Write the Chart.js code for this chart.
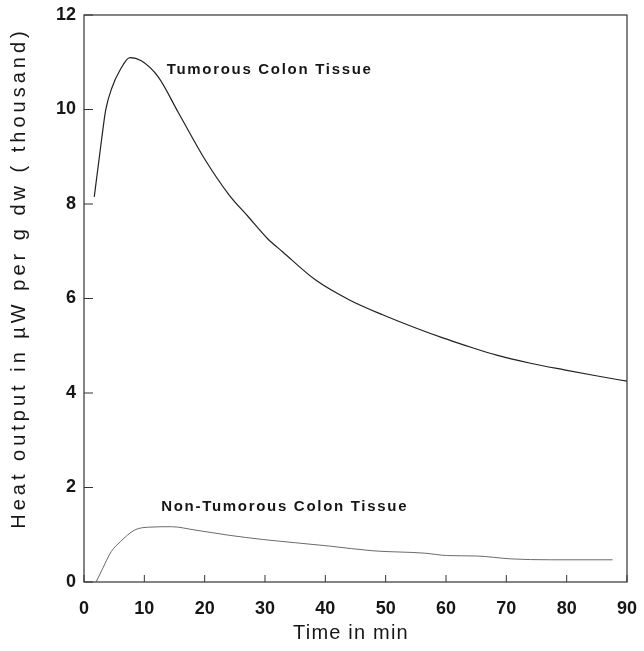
<!DOCTYPE html>
<html>
<head>
<meta charset="utf-8">
<script src="https://cdn.jsdelivr.net/npm/chart.js@4"></script>
<style>
    html, body { margin: 0; padding: 0; background: #fff; }
    #wrap { width: 644px; height: 651px; }
</style>
</head>
<body>
<div id="wrap"><canvas id="chart"></canvas></div>
<script>
// values (x in min, y in thousand µW per g dw)
const tumorX = [1.7, 2.9, 3.6, 4.6, 6.0, 7.6, 9.5, 12.3, 15.7, 20.1, 24.0, 27.3, 30.4, 32.9, 38.4, 44.0, 49.6, 55.1, 59.6, 62.9, 68.4, 74.0, 79.6, 85.1, 90.0];
const tumorY = [8.15, 9.35, 9.99, 10.45, 10.84, 11.1, 11.03, 10.69, 9.92, 8.93, 8.2, 7.72, 7.27, 6.99, 6.39, 5.97, 5.65, 5.37, 5.16, 5.02, 4.8, 4.63, 4.49, 4.36, 4.25];

const normalX = [2.0, 3.0, 4.5, 6.0, 8.4, 10.7, 14.5, 18.4, 24.0, 29.6, 35.1, 40.7, 47.9, 56.5, 60.1, 65.1, 70.7, 77.3, 82.9, 87.6];
const normalY = [0, 0.26, 0.64, 0.85, 1.10, 1.16, 1.17, 1.10, 0.99, 0.90, 0.83, 0.76, 0.66, 0.61, 0.56, 0.55, 0.49, 0.47, 0.47, 0.47];

const xTicks = [0, 10, 20, 30, 40, 50, 60, 70, 80, 90];
const yTicks = [0, 2, 4, 6, 8, 10, 12];

const seriesLabels = ["Tumorous Colon Tissue", "Non-Tumorous Colon Tissue"];
// where the curve labels sit, in data units (left edge, middle of text)
const labelAt = [[13.7, 10.84], [12.8, 1.59]];

const xTitle = "Time in min";
const yTitle = "Heat output in µW per g dw ( thousand)";

function toPoints(xs, ys) {
    return xs.map((x, i) => ({ x: x, y: ys[i] }));
}

const ink = "#161616";

// frame, inward ticks, curve labels and axis titles
const decor = {
    id: "decor",
    afterDraw(chart) {
        const ctx = chart.ctx;
        const area = chart.chartArea;
        const xs = chart.scales.x;
        const ys = chart.scales.y;

        ctx.save();
        ctx.strokeStyle = "#333";
        ctx.lineWidth = 1.2;
        ctx.strokeRect(area.left, area.top, area.right - area.left, area.bottom - area.top);

        ctx.lineWidth = 1;
        ctx.beginPath();
        for (const v of xTicks) {
            const px = xs.getPixelForValue(v);
            ctx.moveTo(px, area.bottom);
            ctx.lineTo(px, area.bottom - 7);
        }
        for (const v of yTicks) {
            const py = ys.getPixelForValue(v);
            ctx.moveTo(area.left, py);
            ctx.lineTo(area.left + 9, py);
        }
        ctx.stroke();

        ctx.fillStyle = ink;
        ctx.font = "bold 15px 'Liberation Sans', Arial, sans-serif";
        ctx.letterSpacing = "1.7px";
        ctx.textAlign = "left";
        ctx.textBaseline = "middle";
        seriesLabels.forEach((txt, i) => {
            ctx.fillText(txt, xs.getPixelForValue(labelAt[i][0]), ys.getPixelForValue(labelAt[i][1]));
        });

        ctx.font = "20px 'Liberation Sans', Arial, sans-serif";
        ctx.letterSpacing = "1.2px";
        ctx.textAlign = "center";
        ctx.fillText(xTitle, 351, 633);

        ctx.translate(19, 278);
        ctx.rotate(-Math.PI / 2);
        ctx.letterSpacing = "4px";
        ctx.fillText(yTitle, 0, 0);
        ctx.restore();
    }
};

new Chart(document.getElementById("chart"), {
    type: "line",
    data: {
        datasets: [
            {
                label: seriesLabels[0],
                data: toPoints(tumorX, tumorY),
                borderColor: "#222",
                borderWidth: 1.2,
                pointRadius: 0,
                cubicInterpolationMode: "monotone"
            },
            {
                label: seriesLabels[1],
                data: toPoints(normalX, normalY),
                borderColor: "#6a6a6a",
                borderWidth: 1,
                pointRadius: 0,
                cubicInterpolationMode: "monotone"
            }
        ]
    },
    plugins: [decor],
    options: {
        responsive: true,
        maintainAspectRatio: false,
        animation: false,
        layout: {
            padding: { left: 44, right: 17, top: 15, bottom: 29 }
        },
        plugins: {
            legend: { display: false },
            tooltip: { enabled: false }
        },
        scales: {
            x: {
                type: "linear",
                min: 0,
                max: 90,
                afterFit: (s) => {
                    s.height = 40;
                    s.paddingLeft = 0;
                    s.paddingRight = 0;
                },
                afterBuildTicks: (s) => { s.ticks = xTicks.map(v => ({ value: v })); },
                grid: { display: false, drawTicks: false },
                border: { display: false },
                ticks: {
                    padding: 16,
                    color: ink,
                    font: { family: "'Liberation Sans', Arial, sans-serif", size: 18, weight: "bold" }
                }
            },
            y: {
                min: 0,
                max: 12,
                afterFit: (s) => {
                    s.width = 40;
                    s.paddingTop = 0;
                    s.paddingBottom = 0;
                },
                afterBuildTicks: (s) => { s.ticks = yTicks.map(v => ({ value: v })); },
                grid: { display: false, drawTicks: false },
                border: { display: false },
                ticks: {
                    padding: 8,
                    color: ink,
                    font: { family: "'Liberation Sans', Arial, sans-serif", size: 18, weight: "bold" }
                }
            }
        }
    }
});
</script>
</body>
</html>
